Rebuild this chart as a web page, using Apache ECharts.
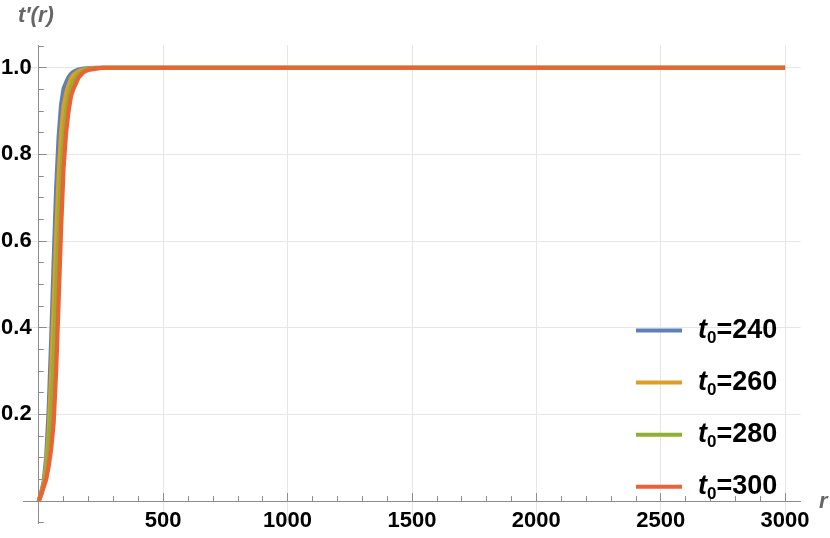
<!DOCTYPE html>
<html>
<head>
<meta charset="utf-8">
<script src="https://cdn.jsdelivr.net/npm/echarts@6/dist/echarts.min.js"></script>
<style>
  html, body { margin: 0; padding: 0; background: #fff; }
  #chart { width: 830px; height: 538px; }
</style>
</head>
<body>
<div id="chart"></div>
<script>
// r values shared by every curve
const rValues = [0, 10, 20, 30, 40, 50, 60, 70, 80, 90, 100, 110, 120, 130, 140, 160, 180, 200, 230, 260, 300, 3000];

// t'(r)
const t240 = [0, 0.02, 0.045, 0.1, 0.21, 0.37, 0.55, 0.72, 0.84, 0.915, 0.952, 0.966, 0.978, 0.986, 0.991, 0.996, 0.998, 0.999, 1, 1, 1, 1];
const t260 = [0, 0.018, 0.04, 0.083, 0.16, 0.29, 0.45, 0.61, 0.75, 0.85, 0.91, 0.94, 0.96, 0.975, 0.984, 0.992, 0.996, 0.998, 0.999, 1, 1, 1];
const t280 = [0, 0.016, 0.036, 0.066, 0.12, 0.2, 0.32, 0.47, 0.62, 0.75, 0.84, 0.9, 0.935, 0.955, 0.97, 0.985, 0.993, 0.997, 0.999, 1, 1, 1];
const t300 = [0, 0.015, 0.032, 0.05, 0.08, 0.12, 0.18, 0.3, 0.46, 0.63, 0.77, 0.85, 0.9, 0.935, 0.952, 0.977, 0.99, 0.995, 0.998, 1, 1, 1];

const seriesNames = ["t0=240", "t0=260", "t0=280", "t0=300"];
const seriesData = [t240, t260, t280, t300];
const colors = ["#5e81b5", "#e19c24", "#8fb032", "#eb6235"];

// ticks
const xMajor = [500, 1000, 1500, 2000, 2500, 3000];
const xMinor = [100, 200, 300, 400, 600, 700, 800, 900, 1100, 1200, 1300, 1400, 1600, 1700, 1800, 1900,
  2100, 2200, 2300, 2400, 2600, 2700, 2800, 2900];
const yMajor = [0.2, 0.4, 0.6, 0.8, 1.0];
const yMinor = [-0.05, 0.05, 0.1, 0.15, 0.25, 0.3, 0.35, 0.45, 0.5, 0.55, 0.65, 0.7, 0.75, 0.85, 0.9, 0.95, 1.05];

const FONT = "'Liberation Sans', Arial, sans-serif";
const axisGray = "#8c8c8c";
const gridGray = "#e6e6e6";

const chart = echarts.init(document.getElementById("chart"), null, { renderer: "canvas" });

const legends = seriesNames.map((name, i) => ({
  data: [name],
  left: 636,
  top: 317 + i * 52.1,
  padding: 0,
  orient: "vertical",
  selectedMode: false,
  icon: "rect",
  itemWidth: 46,
  itemHeight: 4,
  formatter: (n) => "{t|t}{s|0}{n|=" + n.split("=")[1] + "}",
  textStyle: {
    color: "#000",
    fontFamily: FONT,
    rich: {
      t: { fontSize: 27, fontStyle: "italic", fontWeight: "bold", fontFamily: FONT, lineHeight: 32, padding: [0, 0, 0, 11] },
      s: { fontSize: 17, fontWeight: "bold", fontFamily: FONT, verticalAlign: "bottom", lineHeight: 12 },
      n: { fontSize: 27, fontWeight: "bold", fontFamily: FONT, lineHeight: 32 },
    },
  },
}));

const option = {
  animation: false,
  backgroundColor: "#fff",
  grid: { left: 23.3, right: 29.5, top: 45.2, bottom: 14.4, outerBoundsMode: "none" },
  legend: legends,
  xAxis: [
    {
      type: "value",
      min: -62,
      max: 3062,
      axisLine: { onZero: true, lineStyle: { color: axisGray, width: 1 } },
      axisTick: { inside: true, length: 8, customValues: xMajor, lineStyle: { color: axisGray } },
      axisLabel: {
        customValues: xMajor,
        formatter: (v) => String(v),
        margin: -14,
        color: "#000",
        fontSize: 22,
        fontWeight: "bold",
        fontFamily: FONT,
      },
      splitLine: { show: true, lineStyle: { color: gridGray, width: 1 } },
    },
    {
      type: "value",
      min: -62,
      max: 3062,
      position: "top",
      axisLine: { show: false, onZero: true, onZeroAxisIndex: 0 },
      axisTick: { inside: false, length: 5, customValues: xMinor, lineStyle: { color: axisGray } },
      axisLabel: { show: false },
      splitLine: { show: false },
    },
  ],
  yAxis: [
    {
      type: "value",
      min: -0.052,
      max: 1.052,
      axisLine: { show: true, onZero: true, lineStyle: { color: axisGray, width: 1 } },
      axisTick: { show: true, inside: true, length: 8, customValues: yMajor, lineStyle: { color: axisGray } },
      axisLabel: {
        customValues: yMajor,
        formatter: (v) => v.toFixed(1),
        margin: -8.4,
        color: "#000",
        fontSize: 22,
        fontWeight: "bold",
        fontFamily: FONT,
      },
      splitLine: { show: true, lineStyle: { color: gridGray, width: 1 } },
    },
    {
      type: "value",
      min: -0.052,
      max: 1.052,
      position: "right",
      axisLine: { show: false, onZero: true, onZeroAxisIndex: 0 },
      axisTick: { show: true, inside: false, length: 5, customValues: yMinor, lineStyle: { color: axisGray } },
      axisLabel: { show: false },
      splitLine: { show: false },
    },
  ],
  graphic: [
    {
      type: "text",
      left: 18,
      top: 5,
      style: { text: "t\u2032(r)", font: "italic bold 22px " + FONT, fill: "#666" },
    },
    {
      type: "text",
      left: 819,
      top: 491,
      style: { text: "r", font: "italic bold 22px " + FONT, fill: "#666" },
    },
  ],
  series: seriesNames.map((name, i) => ({
    name: name,
    type: "line",
    xAxisIndex: 0,
    yAxisIndex: 0,
    data: rValues.map((r, k) => [r, seriesData[i][k]]),
    showSymbol: false,
    symbol: "none",
    smooth: false,
    color: colors[i],
    lineStyle: { color: colors[i], width: 4.2, join: "round" },
    z: 3 + i,
  })),
};

chart.setOption(option);
</script>
</body>
</html>
